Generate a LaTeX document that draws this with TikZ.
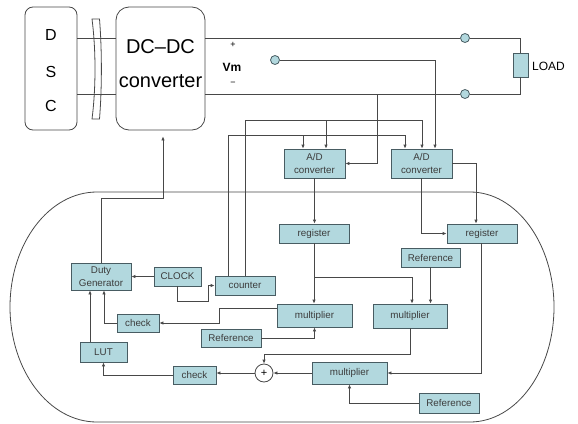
\documentclass[tikz,border=0pt]{standalone}
\usepackage{fontspec}
\setmainfont{Liberation Sans}
\usetikzlibrary{arrows.meta}
\definecolor{boxfill}{RGB}{178,216,222}
\definecolor{boxdraw}{RGB}{72,92,98}
\definecolor{wirec}{RGB}{72,72,72}
\definecolor{txt}{RGB}{60,60,60}
\begin{document}
\begin{tikzpicture}[x=1pt,y=-1pt,
 blk/.style={draw=boxdraw,fill=boxfill,line width=0.8pt,inner sep=0pt,
   font=\fontsize{9.8}{12.5}\selectfont,text=txt,align=center},
 bigbox/.style={draw=wirec,line width=0.8pt,inner sep=0pt},
 wire/.style={draw=wirec,line width=0.8pt},
 arr/.style={wire,-{Latex[length=4pt,width=3.5pt]}},
 term/.style={circle,draw=boxdraw,fill=boxfill,line width=0.8pt,minimum size=9pt,inner sep=0pt},
 big/.style={font=\fontsize{20}{24}\selectfont,inner sep=0pt}]
\useasboundingbox (0,0) rectangle (578,423);

% top part
\node[bigbox,rounded corners=8pt,minimum width=52pt,minimum height=123pt] (dsc) at (51,68.5) {};
\node[font=\fontsize{16}{18}\selectfont] (dD) at (51,35) {D};
\node[font=\fontsize{16}{18}\selectfont] (dS) at (51,72) {S};
\node[font=\fontsize{16}{18}\selectfont] (dC) at (51,106) {C};
\node[bigbox,rounded corners=13pt,minimum width=89pt,minimum height=123pt] (conv) at (160.5,68.5) {};
\node[big] (convA) at (160.5,47) {DC–DC};
\node[big] (convB) at (160.5,81) {converter};

\draw[wire] (dsc.east |- 0,38) -- (conv.west |- 0,38);
\draw[wire] (dsc.east |- 0,94) -- (conv.west |- 0,94);
\draw[wire] (92,19) .. controls (96,50) and (96,88) .. (92,119) -- (99.5,119)
  .. controls (102,88) and (102,50) .. (99.5,19) -- cycle;

\node[font=\fontsize{9}{10}\selectfont] (plusS) at (233,45) {+};
\node[font=\bfseries\fontsize{12}{14}\selectfont] (vm) at (232,67) {Vm};
\node[font=\fontsize{9}{10}\selectfont] (minusS) at (233,84) {−};

\node[term] (t1) at (465,38) {};
\node[term] (t2) at (465,94) {};
\node[term] (tv) at (275,60) {};
\node[blk,minimum width=15pt,minimum height=24pt] (load) at (520.5,65) {};
\node[anchor=west,font=\fontsize{12}{14}\selectfont,inner sep=0pt] (loadt) at (532,66) {LOAD};

\draw[wire] (conv.east |- 0,38) -- (t1);
\draw[wire] (t1) -| (load.north);
\draw[wire] (conv.east |- 0,94) -- (t2);
\draw[wire] (t2) -| (load.south);

% controller outline
\draw[wire] (97,192) -- (470,192) arc[start angle=90,end angle=-90,x radius=84pt,y radius=115pt]
  -- (97,422) arc[start angle=270,end angle=90,x radius=87pt,y radius=115pt] -- cycle;

% blocks
\node[blk,minimum width=61pt,minimum height=29pt] (ad1) at (314.5,163.5) {A/D\\converter};
\node[blk,minimum width=61pt,minimum height=29pt] (ad2) at (421.5,163.5) {A/D\\converter};
\node[blk,minimum width=70pt,minimum height=19pt] (reg1) at (314,233.5) {register};
\node[blk,minimum width=70pt,minimum height=19pt] (reg2) at (482,233.5) {register};
\node[blk,minimum width=59pt,minimum height=19pt] (ref2) at (430.5,257.5) {Reference};
\node[blk,minimum width=60pt,minimum height=27pt] (duty) at (101,276.5) {Duty\\Generator};
\node[blk,minimum width=47pt,minimum height=19pt] (clk) at (177.5,276.5) {CLOCK};
\node[blk,minimum width=60pt,minimum height=19pt] (cnt) at (245,285.5) {counter};
\node[blk,minimum width=75pt,minimum height=23pt] (mul1) at (314.5,315.5) {multiplier};
\node[blk,minimum width=74pt,minimum height=24pt] (mul2) at (410,316) {multiplier};
\node[blk,minimum width=42pt,minimum height=18pt] (chk1) at (138,323) {check};
\node[blk,minimum width=60pt,minimum height=18pt] (ref1) at (231,338) {Reference};
\node[blk,minimum width=47pt,minimum height=20pt] (lut) at (103.5,352) {LUT};
\node[blk,minimum width=43pt,minimum height=18pt] (chk2) at (194.5,375) {check};
\node[circle,draw=wirec,fill=white,line width=0.8pt,minimum size=18pt,inner sep=0pt,
  font=\fontsize{11}{12}\selectfont] (plus) at (264,373) {+};
\node[blk,minimum width=75pt,minimum height=22pt] (mul3) at (349.5,373) {multiplier};
\node[blk,minimum width=60pt,minimum height=20pt] (ref3) at (449,403) {Reference};

% measurement wires
\draw[arr] (tv) -| ([xshift=13.5pt]ad2.north);
\draw[arr] (377,0 |- t2) |- (ad1.east);
\draw[wire] ([xshift=-17pt]cnt.north) |- (405,135);
\draw[arr] (405,135) -- ([xshift=-16.5pt]ad2.north);
\draw[arr] (303,135) -- ([xshift=-11.5pt]ad1.north);
\draw[wire] (cnt.north) |- (422,120);
\draw[arr] (422,120) -- ([xshift=0.5pt]ad2.north);
\draw[arr] (326,120) -- ([xshift=11.5pt]ad1.north);

% processing wires
\draw[arr] (ad1.south) -- (ad1.south |- reg1.north);
\draw[arr] (ad2.east) -| ([xshift=-6pt]reg2.north);
\draw[arr] (ad2.south) |- (reg2.west);
\draw[arr] (reg1.south) -- (reg1.south |- mul1.north);
\draw[arr] (reg1.south |- 0,277) -| ([xshift=2pt]mul2.north);
\draw[arr] (ref2.south) -- (ref2.south |- mul2.north);
\draw[arr] (ref1.east) -| (mul1.south);
\draw[arr] ([yshift=7.5pt]mul1.west) -- (219,308) |- (chk1.east);
\draw[arr] (chk1.west) -| ([xshift=3pt]duty.south);
\draw[arr] ([xshift=-13.5pt]lut.north) -- ([xshift=-13.5pt]lut.north |- duty.south);
\draw[arr] (chk2.west) -| (lut.south);
\draw[arr] (plus.west) -- (plus.west -| chk2.east);
\draw[arr] (mul2.south) |- (264,354) -- (plus.north);
\draw[arr] (mul3.west) -- (plus.east);
\draw[arr] ([xshift=-1pt]reg2.south) |- (mul3.east);
\draw[arr] (ref3.west) -| (mul3.south);
\draw[arr] (clk.west) -- (duty.east);
\draw[arr] (clk.south) |- (208,301) |- (cnt.west);
\draw[arr,shorten >=6pt] (duty.north) |- (163,198) -- ([xshift=2.5pt]conv.south);
\end{tikzpicture}
\end{document}
